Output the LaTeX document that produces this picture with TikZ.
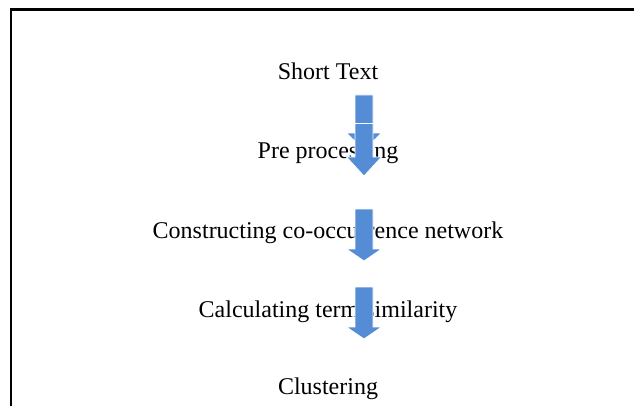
\documentclass[tikz,border=0pt]{standalone}
\usepackage{fontspec}
\setmainfont{Liberation Serif}
\usepackage{tikz}
\usetikzlibrary{positioning,calc}

\definecolor{arrowblue}{RGB}{84,141,213}

% block arrow pointing down: top, shoulder, tip (shaft x 355--373)
\newcommand{\downblock}[3]{%
  \filldraw[blockarrow] (355,#1) -- (373,#1) -- (373,#2) -- (381.5,#2)
    -- (364,#3) -- (346.5,#2) -- (355,#2) -- cycle;}

\begin{document}
\begin{tikzpicture}[
    x=0.75pt, y=-0.75pt,
    steptext/.style={anchor=base, inner sep=0pt, font=\fontsize{18}{21.6}\selectfont},
    blockarrow/.style={fill=arrowblue, draw=white, line width=0.6pt},
    frame/.style={draw=black, line width=1.9pt}
]
    \useasboundingbox (0,0) rectangle (634,406);
    \clip (0,0) rectangle (634,406);

    % Frame (open to right and bottom)
    \draw[frame] (11,410) -- (11,9.5) -- (640,9.5);

    % Steps
    \node[steptext] (short) at (328,80) {Short Text};
    \node[steptext] (pre) at (328,158) {Pre processing};
    \node[steptext] (net) at (328,238) {Constructing co-occurrence network};
    \node[steptext] (sim) at (328,317) {Calculating term similarity};
    \node[steptext] (clu) at (328,394) {Clustering};

    % Block arrows
    \downblock{95}{133}{150}
    \downblock{123.5}{157}{176}
    \downblock{209}{249}{261}
    \downblock{287}{327}{339}
\end{tikzpicture}
\end{document}
